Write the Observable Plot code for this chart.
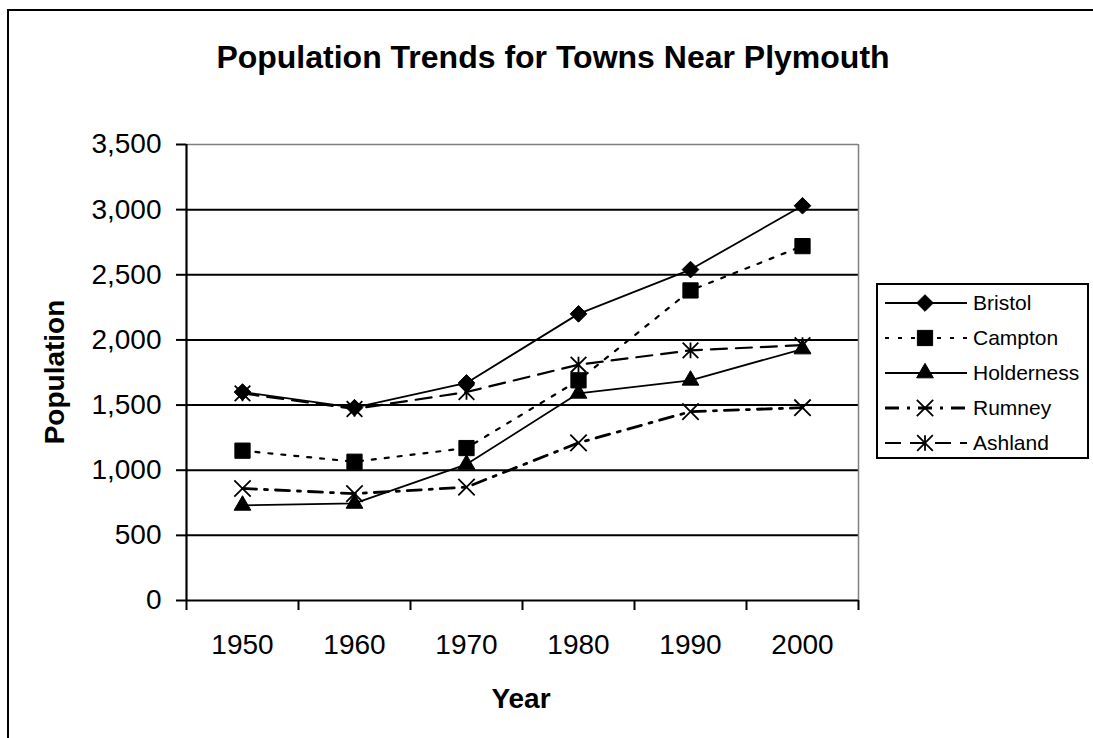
<!DOCTYPE html>
<html><head><meta charset="utf-8">
<script src="https://cdn.jsdelivr.net/npm/d3@7"></script>
<script src="https://cdn.jsdelivr.net/npm/@observablehq/plot@0.6"></script>
<style>body{margin:0;background:#fff} svg{display:block}</style>
</head><body><div id="chart"></div>
<script>
// ---- data ----
const years = [1950, 1960, 1970, 1980, 1990, 2000];
const seriesNames = ["Bristol", "Campton", "Holderness", "Rumney", "Ashland"];
const bristol    = [1600, 1480, 1670, 2200, 2540, 3030];
const campton    = [1150, 1065, 1170, 1690, 2380, 2720];
const holderness = [730, 745, 1045, 1590, 1690, 1930];
const rumney     = [860, 820, 870, 1210, 1450, 1480];
const ashland    = [1590, 1470, 1600, 1810, 1920, 1960];
const yTicks = [0, 500, 1000, 1500, 2000, 2500, 3000, 3500];
const xEdges = [1945, 1955, 1965, 1975, 1985, 1995, 2005];
const titleText = "Population Trends for Towns Near Plymouth";
const xLabel = "Year";
const yLabel = "Population";

const values = [bristol, campton, holderness, rumney, ashland];
const rows = seriesNames.flatMap((name, i) => years.map((year, j) => ({name, year, value: values[i][j]})));

// ---- styles ----
const starSymbol = {draw(ctx, size) {
  const r = Math.sqrt(size) * 0.565;
  ctx.moveTo(0, -r); ctx.lineTo(0, r);
  ctx.moveTo(-r, -r); ctx.lineTo(r, r);
  ctx.moveTo(-r, r); ctx.lineTo(r, -r);
}};
const styles = {
  Bristol:    {width: 1.8, dash: null,        symbol: "diamond2", d3sym: d3.symbolDiamond2, r: 7.5, filled: true},
  Campton:    {width: 2.2, dash: "4,9",       symbol: "square",   d3sym: d3.symbolSquare,   r: 8.6, filled: true},
  Holderness: {width: 1.8, dash: null,        symbol: "triangle", d3sym: d3.symbolTriangle, r: 6.2, filled: true},
  Rumney:     {width: 2.8, dash: "14,8,3,8",  symbol: "times",    d3sym: d3.symbolTimes,    r: 7.5, filled: false},
  Ashland:    {width: 2.2, dash: "16,9",      symbol: starSymbol, d3sym: starSymbol,        r: 7.8, filled: false}
};

const font = "'Liberation Sans', Arial, sans-serif";
const marks = [
  Plot.ruleY(yTicks.filter(d => d > 0 && d < 3500), {stroke: "black", strokeWidth: 2}),
  Plot.ruleY([3500], {stroke: "#808080", strokeWidth: 1.5}),
  Plot.ruleX([2005], {stroke: "#808080", strokeWidth: 1.5}),
  Plot.axisY({ticks: yTicks, tickSize: 10, tickPadding: 15, tickFormat: d3.format(","), fontSize: 28, strokeWidth: 2, label: null}),
  Plot.axisX({ticks: xEdges, tickSize: 10, tickFormat: () => "", strokeWidth: 2, label: null}),
  Plot.axisX({ticks: years, tickSize: 0, tickPadding: 34, fontSize: 28, tickFormat: d => String(d), label: null}),
  Plot.ruleY([0], {stroke: "black", strokeWidth: 2.2}),
  Plot.ruleX([1945], {stroke: "black", strokeWidth: 2.2})
];
for (const name of seriesNames) {
  const s = styles[name];
  const data = rows.filter(d => d.name === name);
  marks.push(Plot.line(data, {x: "year", y: "value", stroke: "black", strokeWidth: s.width, strokeDasharray: s.dash || undefined}));
  marks.push(Plot.dot(data, {x: "year", y: "value", symbol: s.symbol, r: s.r,
    fill: s.filled ? "black" : "none", stroke: "black", strokeWidth: s.filled ? 1 : 1.8}));
}

const chart = Plot.plot({
  width: 1093, height: 738,
  marginLeft: 186, marginRight: 235, marginTop: 144, marginBottom: 138,
  x: {type: "linear", domain: [1945, 2005]},
  y: {domain: [0, 3500]},
  style: {fontFamily: font, background: "white", color: "black"},
  marks
});

const svg = d3.select(chart);
// outer chart border
svg.insert("rect", ":first-child").attr("x", 8).attr("y", 10).attr("width", 1200).attr("height", 1000)
  .attr("fill", "none").attr("stroke", "black").attr("stroke-width", 2);
// title
svg.append("text").attr("x", 553).attr("y", 68).attr("text-anchor", "middle")
  .attr("font-family", font).attr("font-size", 32).attr("font-weight", "bold").attr("fill", "black").text(titleText);
// axis titles
svg.append("text").attr("x", 521).attr("y", 708).attr("text-anchor", "middle")
  .attr("font-family", font).attr("font-size", 28).attr("font-weight", "bold").attr("fill", "black").text(xLabel);
svg.append("text").attr("transform", "translate(64,372) rotate(-90)").attr("text-anchor", "middle")
  .attr("font-family", font).attr("font-size", 28).attr("font-weight", "bold").attr("fill", "black").text(yLabel);
// legend
const lg = svg.append("g").attr("text-anchor", "start");
lg.append("rect").attr("x", 877).attr("y", 284).attr("width", 211).attr("height", 174)
  .attr("fill", "white").attr("stroke", "black").attr("stroke-width", 2);
seriesNames.forEach((name, i) => {
  const s = styles[name];
  const cy = 303 + i * 35;
  lg.append("line").attr("x1", 885).attr("x2", 967).attr("y1", cy).attr("y2", cy)
    .attr("stroke", "black").attr("stroke-width", s.width).attr("stroke-dasharray", s.dash);
  lg.append("path").attr("transform", `translate(925,${cy})`)
    .attr("d", d3.symbol(s.d3sym, Math.PI * s.r * s.r)())
    .attr("fill", s.filled ? "black" : "none").attr("stroke", "black").attr("stroke-width", s.filled ? 1 : 1.8);
  lg.append("text").attr("x", 973).attr("y", cy).attr("dy", "0.35em").attr("text-anchor", "start")
    .attr("font-family", font).attr("font-size", 21).attr("fill", "black").text(name);
});

document.getElementById("chart").appendChild(chart);
</script>
</body></html>
